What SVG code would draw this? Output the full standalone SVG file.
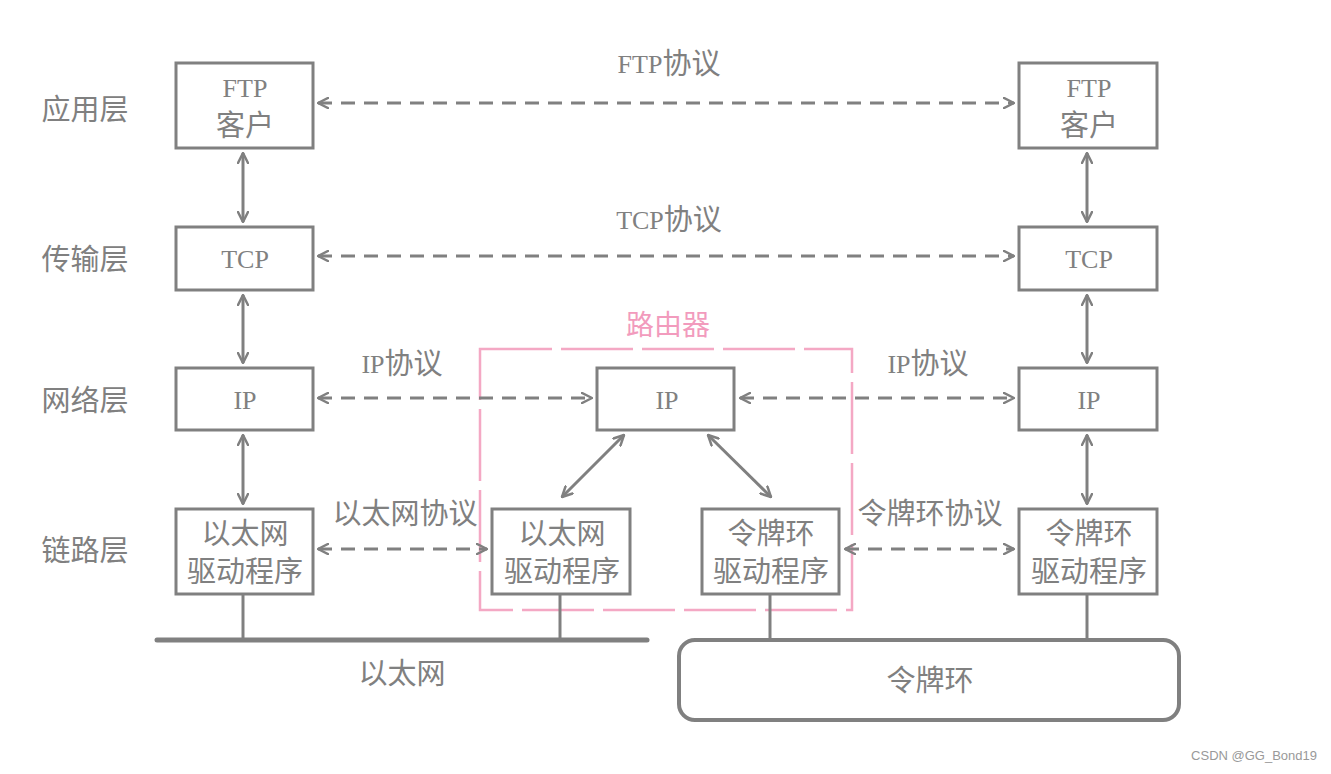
<svg xmlns="http://www.w3.org/2000/svg" width="1331" height="774" viewBox="0 0 1331 774">
<defs>
<style>
.box{fill:#fff;stroke:#808080;stroke-width:3}
.t{font-family:"Liberation Serif","Noto Sans CJK SC",serif;font-size:29px;fill:#808080;text-anchor:middle;dominant-baseline:central}
.lt{font-size:26px}
.lbl{font-family:"Liberation Serif","Noto Sans CJK SC",serif;font-size:29px;fill:#808080;text-anchor:middle;dominant-baseline:central}
.dash{stroke:#808080;stroke-width:3;fill:none;stroke-dasharray:14 9;marker-start:url(#ah);marker-end:url(#ah)}
.solid{stroke:#808080;stroke-width:3;fill:none;marker-start:url(#ah);marker-end:url(#ah)}
.wire{stroke:#808080;stroke-width:3;fill:none}
</style>
<marker id="ah" viewBox="0 0 12 12" refX="11" refY="6" markerWidth="12" markerHeight="12" markerUnits="userSpaceOnUse" orient="auto-start-reverse">
<path d="M1,1 L11,6 L1,11" fill="none" stroke="#808080" stroke-width="2.5" stroke-linecap="round" stroke-linejoin="round"/>
</marker>
</defs>

<g id="layer-labels">
<text class="lbl" x="85" y="110">应用层</text>
<text class="lbl" x="85" y="260">传输层</text>
<text class="lbl" x="85" y="401">网络层</text>
<text class="lbl" x="85" y="551">链路层</text>
</g>

<g id="router">
<rect x="480" y="349" width="372" height="261" fill="none" stroke="#f4a8c4" stroke-width="2.5" stroke-dasharray="72 9"/>
<text x="668" y="325" font-family="Liberation Serif,Noto Sans CJK SC,serif" font-size="28" fill="#f29bbd" text-anchor="middle" dominant-baseline="central">路由器</text>
</g>

<g id="connectors">
<line class="dash" x1="318" y1="103" x2="1014" y2="103"/>
<line class="dash" x1="318" y1="256" x2="1014" y2="256"/>
<line class="dash" x1="318" y1="398" x2="592" y2="398"/>
<line class="dash" x1="740" y1="398" x2="1014" y2="398"/>
<line class="dash" x1="318" y1="549" x2="487" y2="549"/>
<line class="dash" x1="845" y1="549" x2="1014" y2="549"/>
<line class="solid" x1="243" y1="153" x2="243" y2="222"/>
<line class="solid" x1="243" y1="295" x2="243" y2="363"/>
<line class="solid" x1="243" y1="435" x2="243" y2="504"/>
<line class="solid" x1="1087" y1="153" x2="1087" y2="222"/>
<line class="solid" x1="1087" y1="295" x2="1087" y2="363"/>
<line class="solid" x1="1087" y1="435" x2="1087" y2="504"/>
<line class="solid" x1="624" y1="435" x2="562" y2="497"/>
<line class="solid" x1="708" y1="435" x2="771" y2="497"/>
<line class="wire" x1="243" y1="595" x2="243" y2="640"/>
<line class="wire" x1="560" y1="595" x2="560" y2="640"/>
<line class="wire" x1="770" y1="595" x2="770" y2="640"/>
<line class="wire" x1="1087" y1="595" x2="1087" y2="640"/>
</g>

<g id="protocol-labels">
<text class="lbl" x="669" y="64"><tspan class="lt">FTP</tspan>协议</text>
<text class="lbl" x="669" y="220"><tspan class="lt">TCP</tspan>协议</text>
<text class="lbl" x="402" y="364"><tspan class="lt">IP</tspan>协议</text>
<text class="lbl" x="928" y="364"><tspan class="lt">IP</tspan>协议</text>
<text class="lbl" x="405" y="514">以太网协议</text>
<text class="lbl" x="930" y="514">令牌环协议</text>
</g>

<g id="ftp-left"><rect class="box" x="176" y="63" width="137" height="85"/><text class="t lt" x="245" y="88">FTP</text><text class="t" x="245" y="126">客户</text></g>
<g id="tcp-left"><rect class="box" x="176" y="227" width="137" height="63"/><text class="t lt" x="245" y="259">TCP</text></g>
<g id="ip-left"><rect class="box" x="176" y="368" width="137" height="62"/><text class="t lt" x="245" y="400">IP</text></g>
<g id="eth-left"><rect class="box" x="176" y="509" width="137" height="85"/><text class="t" x="245" y="534">以太网</text><text class="t" x="245" y="572">驱动程序</text></g>

<g id="ftp-right"><rect class="box" x="1019" y="63" width="138" height="85"/><text class="t lt" x="1089" y="88">FTP</text><text class="t" x="1089" y="126">客户</text></g>
<g id="tcp-right"><rect class="box" x="1019" y="227" width="138" height="63"/><text class="t lt" x="1089" y="259">TCP</text></g>
<g id="ip-right"><rect class="box" x="1019" y="368" width="138" height="62"/><text class="t lt" x="1089" y="400">IP</text></g>
<g id="tr-right"><rect class="box" x="1019" y="509" width="138" height="85"/><text class="t" x="1089" y="534">令牌环</text><text class="t" x="1089" y="572">驱动程序</text></g>

<g id="ip-router"><rect class="box" x="597" y="368" width="137" height="62"/><text class="t lt" x="667" y="400">IP</text></g>
<g id="eth-router"><rect class="box" x="492" y="509" width="138" height="85"/><text class="t" x="562" y="534">以太网</text><text class="t" x="562" y="572">驱动程序</text></g>
<g id="tr-router"><rect class="box" x="702" y="509" width="137" height="85"/><text class="t" x="771" y="534">令牌环</text><text class="t" x="771" y="572">驱动程序</text></g>

<g id="ethernet">
<line x1="157" y1="640" x2="647" y2="640" stroke="#808080" stroke-width="5" stroke-linecap="round"/>
<text class="lbl" x="402" y="674">以太网</text>
</g>

<g id="token-ring">
<rect x="679" y="640" width="500" height="80" rx="16" fill="none" stroke="#808080" stroke-width="4"/>
<text class="lbl" x="930" y="681">令牌环</text>
</g>

<text x="1317" y="760" font-family="Liberation Sans,sans-serif" font-size="13" fill="#999" text-anchor="end">CSDN @GG_Bond19</text>
</svg>
